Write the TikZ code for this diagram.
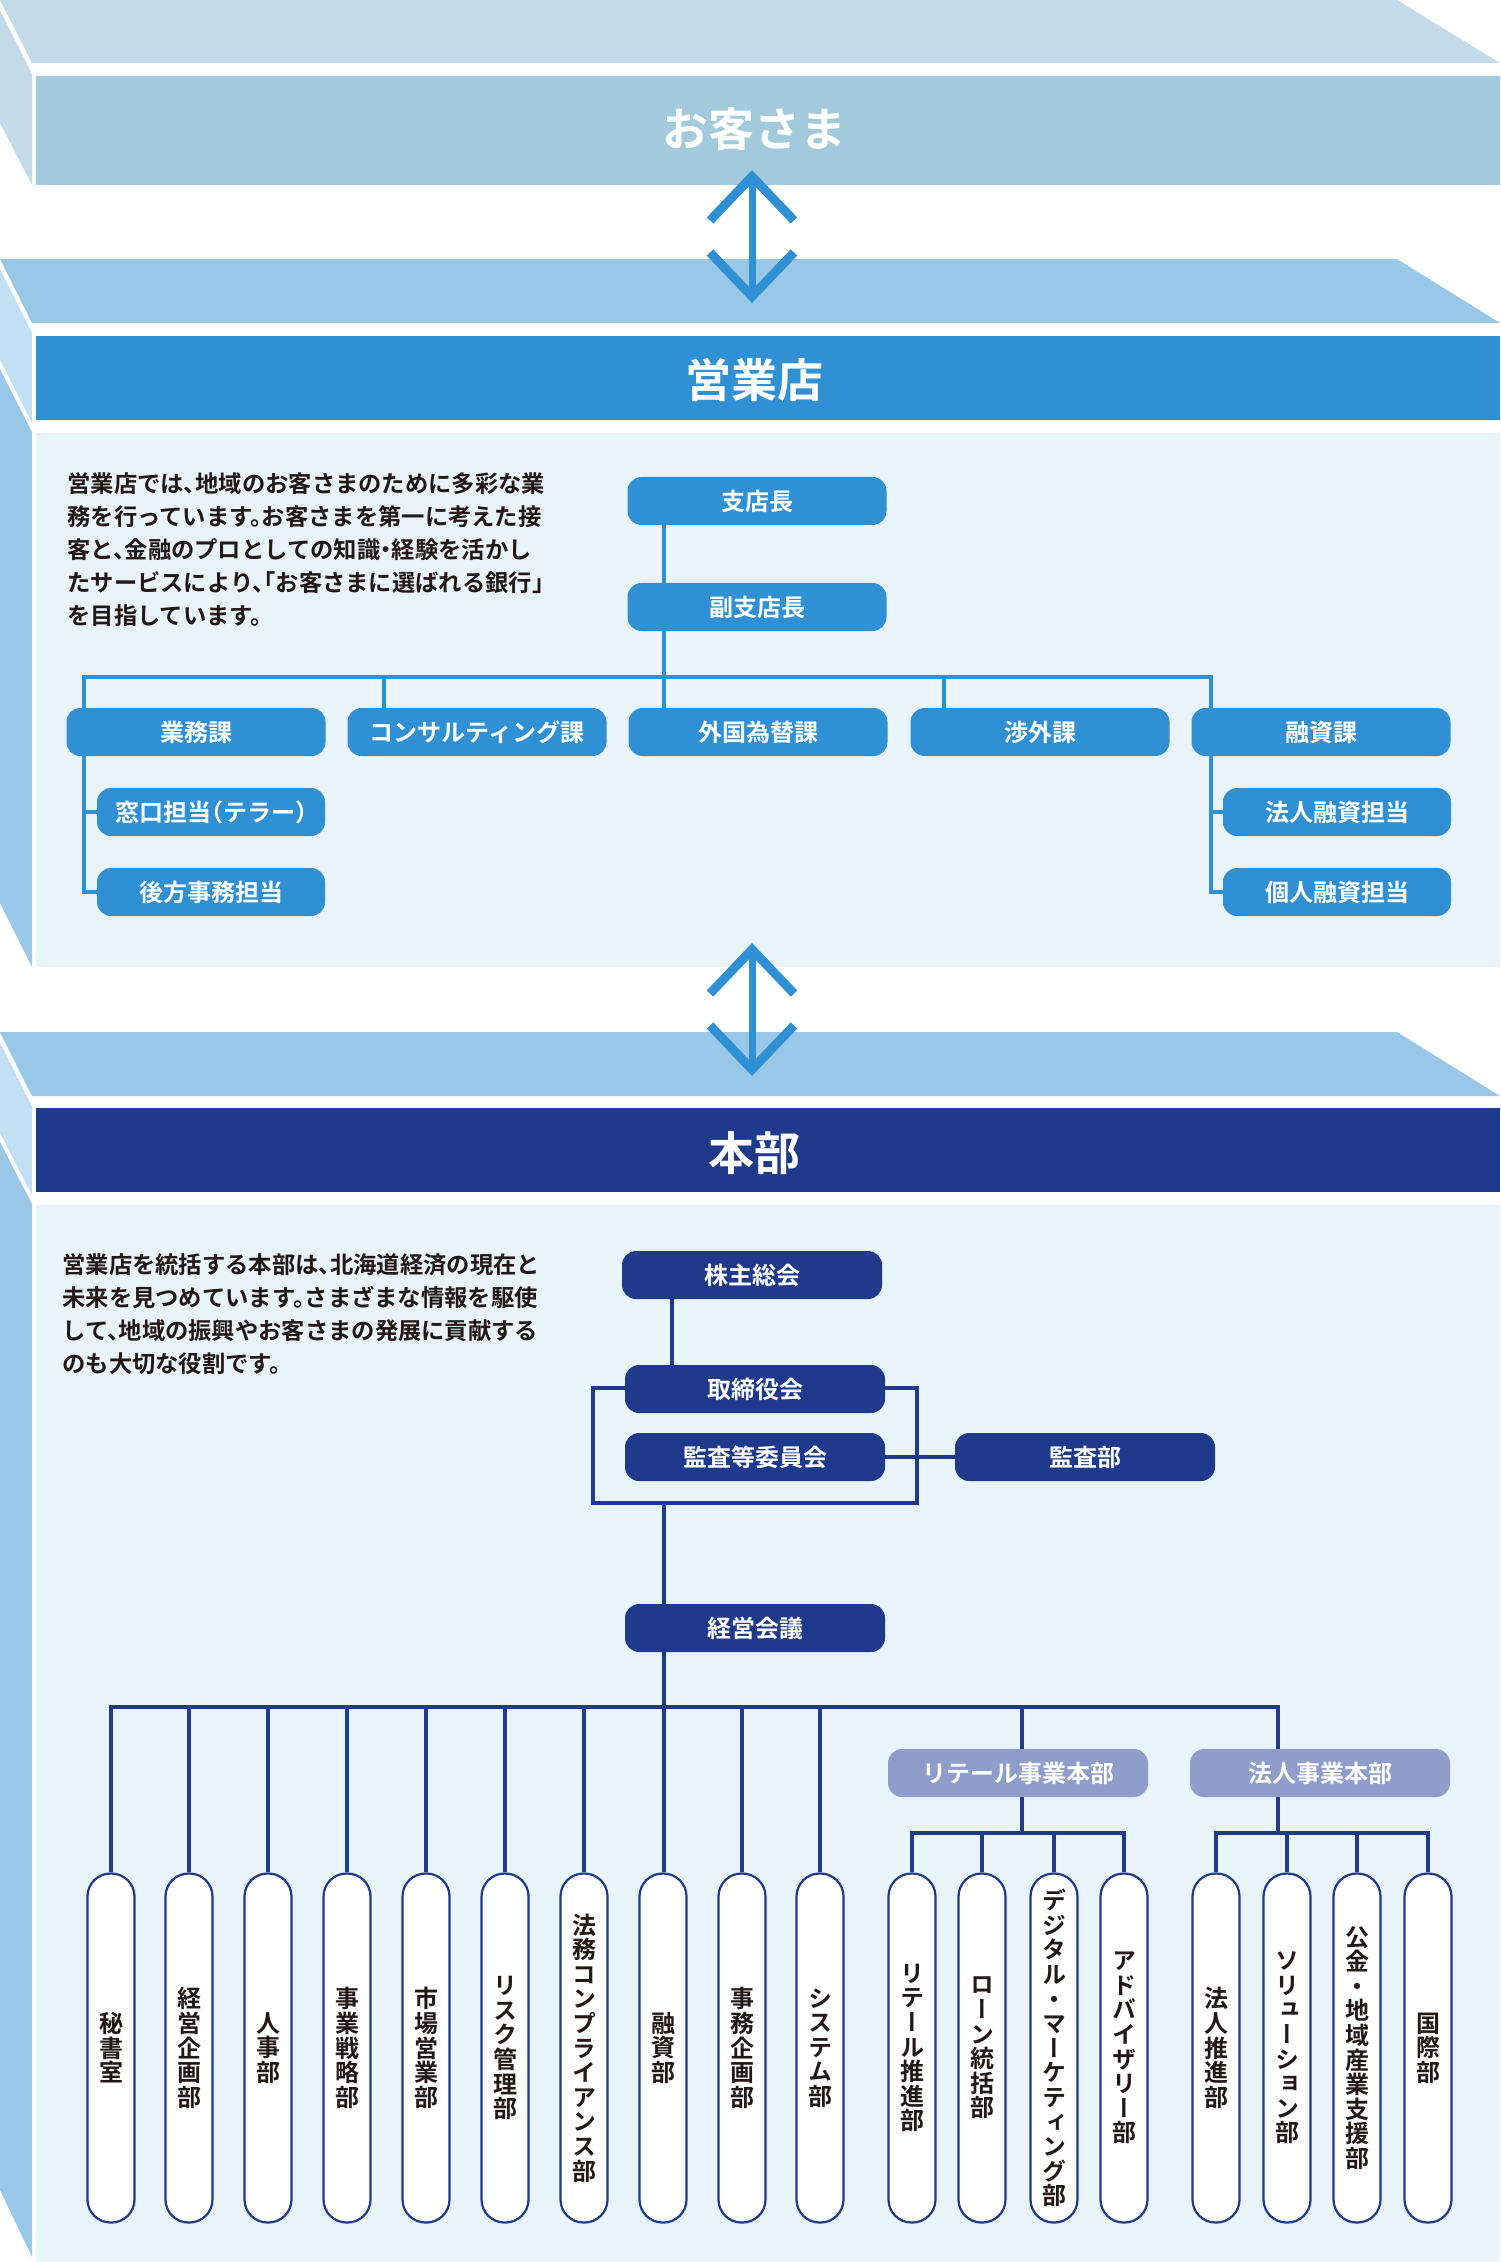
\documentclass[tikz,border=0pt]{standalone}
\usepackage{fontspec}
\setmainfont{Noto Sans CJK JP}[BoldFont={Noto Sans CJK JP Bold}, RawFeature=+halt]
\newfontfamily\tatefont{Noto Sans CJK JP Bold}[RawFeature=+vert]
\usepackage{tikz}
\usetikzlibrary{arrows.meta}

\definecolor{okyakuTop}{HTML}{C3DBE8}
\definecolor{okyakuBar}{HTML}{A3C9DC}
\definecolor{sideLight}{HTML}{C2DFF3}
\definecolor{faceTop}{HTML}{98C7E8}
\definecolor{shopBlue}{HTML}{3090D4}
\definecolor{bodyBg}{HTML}{E8F3FA}
\definecolor{hqNavy}{HTML}{1F3A8C}
\definecolor{divGray}{HTML}{8E9DC9}
\definecolor{inkText}{HTML}{231815}

\pgfdeclarelayer{fondo}
\pgfdeclarelayer{lineas}
\pgfsetlayers{fondo,lineas,main}

\begin{document}
\begin{tikzpicture}[x=0.5pt, y=-0.5pt,
    titulo/.style={text=white, inner sep=0pt, font=\bfseries\fontsize{23}{23}\selectfont},
    shopbox/.style={fill=shopBlue, rounded corners=7pt, minimum width=129.5pt, minimum height=24pt,
        inner sep=0pt, text=white, font=\bfseries\fontsize{12}{12}\selectfont},
    shopsub/.style={shopbox, minimum width=114pt},
    shopline/.style={draw=shopBlue, line width=2pt},
    hqbox/.style={shopbox, fill=hqNavy, minimum width=130pt},
    divbox/.style={hqbox, fill=divGray},
    hqline/.style={draw=hqNavy, line width=2pt},
    pill/.style={draw=hqNavy, line width=1.1pt, fill=white, rounded corners=11.5pt,
        minimum width=23.5pt, minimum height=174.5pt, inner sep=0pt, align=center,
        text=inkText, font=\tatefont\fontsize{12}{12.3}\selectfont},
    parrafo/.style={anchor=north west, inner sep=0pt, align=left, text=inkText,
        font=\bfseries\fontsize{11.65}{16.5}\selectfont},
    vaiven/.style={draw=shopBlue, line width=3.5pt,
        {Straight Barb[length=22pt, width=42pt, line width=4.5pt]}-{Straight Barb[length=22pt, width=42pt, line width=4.5pt]}}]

    \useasboundingbox (0,0) rectangle (1500,2262);

    % Fondos
    \begin{pgfonlayer}{fondo}
        % Cliente
        \fill[okyakuTop] (0,10) -- (32,74) -- (32,185) -- (0,123) -- cycle;
        \fill[okyakuTop] (0,0) -- (1397,0) -- (1500,63) -- (32,63) -- cycle;
        \fill[okyakuBar] (36,76) rectangle (1500,185);
        % Sucursal
        \fill[sideLight] (0,269) -- (32,333) -- (32,423) -- (0,360) -- cycle;
        \fill[faceTop] (0,369) -- (32,432) -- (32,967) -- (0,903) -- cycle;
        \fill[faceTop] (0,259) -- (1397,259) -- (1500,323) -- (32,323) -- cycle;
        \fill[shopBlue] (36,336) rectangle (1500,420);
        \fill[bodyBg] (36,433) rectangle (1500,967);
        % Sede central
        \fill[sideLight] (0,1042) -- (32,1106) -- (32,1195) -- (0,1133) -- cycle;
        \fill[faceTop] (0,1142) -- (32,1204) -- (32,2257) -- (0,2190) -- cycle;
        \fill[faceTop] (0,1032) -- (1397,1032) -- (1500,1096) -- (32,1096) -- cycle;
        \fill[hqNavy] (36,1108) rectangle (1500,1192);
        \fill[bodyBg] (36,1205) rectangle (1500,2262);
    \end{pgfonlayer}

    % Titulos
    \node[titulo] (okyaku) at (754,129) {お客さま};
    \node[titulo] (eigyoten) at (754,380) {営業店};
    \node[titulo] (honbu) at (754,1153) {本部};

    % Flechas
    \coordinate (ida1) at (752,170);
    \coordinate (vuelta1) at (752,303);
    \coordinate (ida2) at (752,943);
    \coordinate (vuelta2) at (752,1076);
    \draw[vaiven] (ida1) -- (vuelta1);
    \draw[vaiven] (ida2) -- (vuelta2);

    % Textos
    \node[parrafo] (shoptext) at (67,472) {営業店では、地域のお客さまのために多彩な業\\
        務を行っています。お客さまを第一に考えた接\\
        客と、金融のプロとしての知識・経験を活かし\\
        たサービスにより、「お客さまに選ばれる銀行」\\
        を目指しています。};
    \node[parrafo] (hqtext) at (62,1253) {営業店を統括する本部は、北海道経済の現在と\\
        未来を見つめています。さまざまな情報を駆使\\
        して、地域の振興やお客さまの発展に貢献する\\
        のも大切な役割です。};

    % Organigrama del営業店
    \node[shopbox] (shiten) at (757,501) {支店長};
    \node[shopbox] (fukushiten) at (757,607) {副支店長};
    \node[shopbox] (gyomu) at (196,732) {業務課};
    \node[shopbox] (consul) at (477,732) {コンサルティング課};
    \node[shopbox] (gaikoku) at (758,732) {外国為替課};
    \node[shopbox] (shogai) at (1040,732) {渉外課};
    \node[shopbox] (yushika) at (1321,732) {融資課};
    \node[shopsub] (madoguchi) at (211,812) {窓口担当（テラー）};
    \node[shopsub] (koho) at (211,892) {後方事務担当};
    \node[shopsub] (hojinyushi) at (1337,812) {法人融資担当};
    \node[shopsub] (kojinyushi) at (1337,892) {個人融資担当};

    \begin{pgfonlayer}{lineas}
        \coordinate (s1) at (84,677);
        \coordinate (s2) at (384,677);
        \coordinate (s3) at (664,677);
        \coordinate (s4) at (944,677);
        \coordinate (s5) at (1211,677);
        \draw[shopline] (s1 |- gyomu.north) -- (s1) -- (s5) -- (s5 |- yushika.north);
        \draw[shopline] (s2) -- (s2 |- consul.north);
        \draw[shopline] (s4) -- (s4 |- shogai.north);
        \draw[shopline] (s3 |- shiten.south) -- (s3 |- gaikoku.north);
        \draw[shopline] (s1 |- gyomu.south) |- (koho.west);
        \draw[shopline] (s1 |- madoguchi.west) -- (madoguchi.west);
        \draw[shopline] (s5 |- yushika.south) |- (kojinyushi.west);
        \draw[shopline] (s5 |- hojinyushi.west) -- (hojinyushi.west);
    \end{pgfonlayer}

    % Organigrama del本部
    \node[hqbox] (kabunushi) at (752,1275) {株主総会};
    \node[hqbox] (torishimari) at (755,1389) {取締役会};
    \node[hqbox] (kansaiin) at (755,1457) {監査等委員会};
    \node[hqbox] (kansabu) at (1085,1457) {監査部};
    \node[hqbox] (keiei) at (755,1628) {経営会議};
    \node[divbox] (retail) at (1018,1773) {リテール事業本部};
    \node[divbox] (hojin) at (1320,1773) {法人事業本部};

    \foreach \px/\pname/\ptxt in {
        111/hisho/{秘\\書\\室},
        189/keieikikaku/{経\\営\\企\\画\\部},
        268/jinji/{人\\事\\部},
        347/senryaku/{事\\業\\戦\\略\\部},
        426/shijo/{市\\場\\営\\業\\部},
        505/risk/{リ\\ス\\ク\\管\\理\\部},
        584/homu/{法\\務\\コ\\ン\\プ\\ラ\\イ\\ア\\ン\\ス\\部},
        663/yushibu/{融\\資\\部},
        742/jimukikaku/{事\\務\\企\\画\\部},
        820/system/{シ\\ス\\テ\\ム\\部},
        912/rsuishin/{リ\\テ\\ー\\ル\\推\\進\\部},
        982/loan/{ロ\\ー\\ン\\統\\括\\部},
        1054/digital/{デ\\ジ\\タ\\ル\\・\\マ\\ー\\ケ\\テ\\ィ\\ン\\グ\\部},
        1124/advisory/{ア\\ド\\バ\\イ\\ザ\\リ\\ー\\部},
        1216/hsuishin/{法\\人\\推\\進\\部},
        1287/solution/{ソ\\リ\\ュ\\ー\\シ\\ョ\\ン\\部},
        1357/kokin/{公\\金\\・\\地\\域\\産\\業\\支\\援\\部},
        1428/kokusai/{国\\際\\部}}
        \node[pill] (\pname) at (\px,2048) {\ptxt};

    \begin{pgfonlayer}{lineas}
        \coordinate (eje1) at (672,0);
        \coordinate (eje2) at (664,0);
        \coordinate (marcoNO) at (593,1388);
        \coordinate (marcoSE) at (917,1503);
        \coordinate (barra) at (111,1707);
        \coordinate (barraFin) at (1278,1707);
        \coordinate (ramaR) at (1022,1833);
        \coordinate (ramaH) at (1278,1833);
        \draw[hqline] (eje1 |- kabunushi.south) -- (eje1 |- torishimari.north);
        \draw[hqline, line width=1.8pt] (marcoNO) rectangle (marcoSE);
        \draw[hqline] (kansaiin.east) -- (kansabu.west);
        \draw[hqline] (eje2 |- marcoSE) -- (eje2 |- yushibu.north);
        \draw[hqline] (hisho.north) -- (barra) -- (barraFin) -- (barraFin |- hojin.north);
        \draw[hqline] (ramaR |- barra) -- (ramaR |- retail.north);
        \draw[hqline] (ramaR |- retail.south) -- (ramaR);
        \draw[hqline] (ramaH |- hojin.south) -- (ramaH);
        \draw[hqline] (rsuishin.north) |- (ramaR) -| (advisory.north);
        \draw[hqline] (hsuishin.north) |- (ramaH) -| (kokusai.north);
        \foreach \pname in {keieikikaku, jinji, senryaku, shijo, risk, homu, jimukikaku, system}
            \draw[hqline] (\pname.north) -- (\pname.north |- barra);
        \foreach \pname in {loan, digital}
            \draw[hqline] (\pname.north) -- (\pname.north |- ramaR);
        \foreach \pname in {solution, kokin}
            \draw[hqline] (\pname.north) -- (\pname.north |- ramaH);
    \end{pgfonlayer}
\end{tikzpicture}
\end{document}
